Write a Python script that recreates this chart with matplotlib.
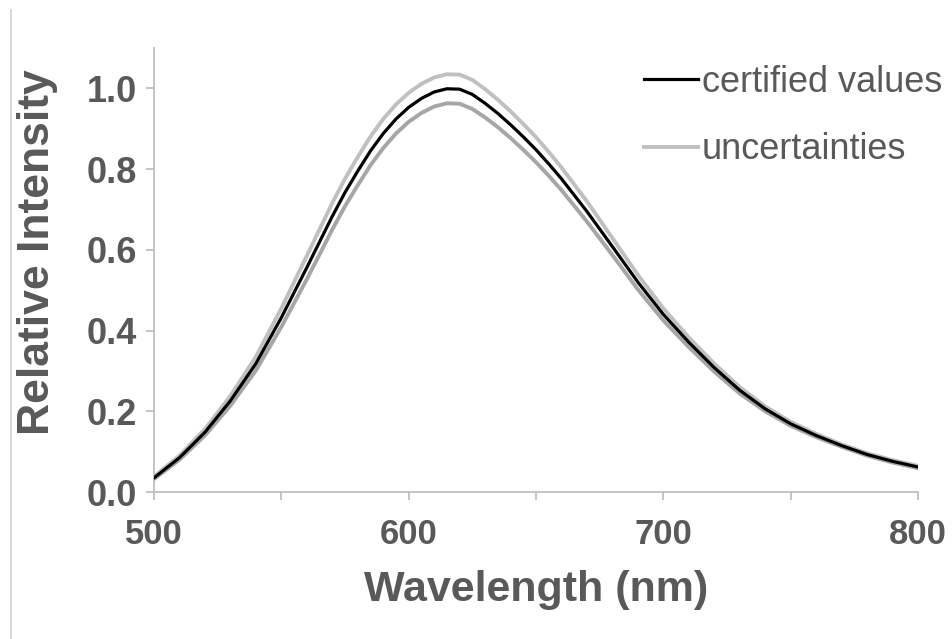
import matplotlib
matplotlib.use("Agg")
import matplotlib.pyplot as plt
from matplotlib.lines import Line2D
import numpy as np

# Data
wavelength = [500, 510, 520, 530, 540, 550, 560, 570, 575, 580, 585, 590, 595, 600, 605,
              610, 615, 620, 625, 630, 635, 640, 645, 650, 655, 660, 670, 680, 690, 700,
              710, 720, 730, 740, 750, 760, 770, 780, 790, 800]
certified = [0.035, 0.085, 0.148, 0.226, 0.318, 0.432, 0.556, 0.683, 0.742, 0.795, 0.845,
             0.888, 0.924, 0.953, 0.975, 0.991, 0.999, 0.998, 0.985, 0.963, 0.938, 0.910,
             0.880, 0.848, 0.813, 0.776, 0.695, 0.608, 0.520, 0.440, 0.371, 0.308, 0.252,
             0.206, 0.169, 0.140, 0.115, 0.093, 0.076, 0.062]
uncert = [0.003, 0.005, 0.008, 0.012, 0.017, 0.023, 0.029, 0.033, 0.034, 0.035, 0.0355,
          0.036, 0.036, 0.036, 0.036, 0.036, 0.036, 0.036, 0.036, 0.035, 0.034, 0.033,
          0.032, 0.031, 0.0295, 0.028, 0.025, 0.021, 0.018, 0.015, 0.012, 0.010, 0.008,
          0.006, 0.005, 0.004, 0.003, 0.003, 0.003, 0.003]

x_ticks_major = [500, 600, 700, 800]
x_ticks_minor = [550, 650, 750]
y_ticks = [0.0, 0.2, 0.4, 0.6, 0.8, 1.0]

plt.rcParams['font.family'] = ['Liberation Sans', 'DejaVu Sans']
text_color = '#595959'
axis_color = '#bfbfbf'

fig = plt.figure(figsize=(9.53, 6.39), dpi=100)
ax = fig.add_axes([154/953, 1-492/639, (918-154)/953, (492-48)/639])

wl = np.array(wavelength)
c = np.array(certified)
u = np.array(uncert)

ax.plot(wl, c + u, color='#c0c0c0', lw=2.8, label='uncertainties', zorder=2,
        solid_joinstyle='round')
ax.plot(wl, c - u, color='#a6a6a6', lw=2.8, zorder=2, solid_joinstyle='round')
ax.plot(wl, c, color='black', lw=2.3, label='certified values', zorder=3,
        solid_joinstyle='round')

ax.set_xlim(500, 800)
ax.set_ylim(0, 1.1)
ax.set_xticks(x_ticks_major)
ax.set_xticks(x_ticks_minor, minor=True)
ax.set_yticks(y_ticks)
ax.set_yticklabels([f"{v:.1f}" for v in y_ticks])

for s in ['top', 'right']:
    ax.spines[s].set_visible(False)
for s in ['left', 'bottom']:
    ax.spines[s].set_color(axis_color)
    ax.spines[s].set_linewidth(1.3)

ax.tick_params(axis='both', which='both', direction='out', color=axis_color,
               width=1.3, length=6, labelcolor=text_color, labelsize=25)
ax.tick_params(axis='x', which='major', pad=13)
ax.tick_params(axis='y', labelsize=26, pad=6)
for lab in ax.get_xticklabels() + ax.get_yticklabels():
    lab.set_fontweight('bold')

ax.set_xlabel('Wavelength (nm)', fontsize=31, fontweight='bold', color=text_color, va='top')
ax.xaxis.set_label_coords(0.5, (492-570)/444)
ax.set_ylabel('Relative Intensity', fontsize=32, fontweight='bold', color=text_color)
ax.yaxis.set_label_coords((58-154)/764, (492-252)/444)

handles, labels = ax.get_legend_handles_labels()
order = [1, 0]
leg = ax.legend([handles[i] for i in order], [labels[i] for i in order],
                loc='upper right', frameon=False, fontsize=26, handlelength=1.5,
                handletextpad=0.1, labelspacing=0.9, borderaxespad=0,
                bbox_to_anchor=(1.05, 0.995))
for t in leg.get_texts():
    t.set_color(text_color)

fig.add_artist(Line2D([11/953, 11/953], [0, 1-10/639], transform=fig.transFigure,
                      color='#d9d9d9', lw=1.5))

fig.savefig('out.png', dpi=100)
